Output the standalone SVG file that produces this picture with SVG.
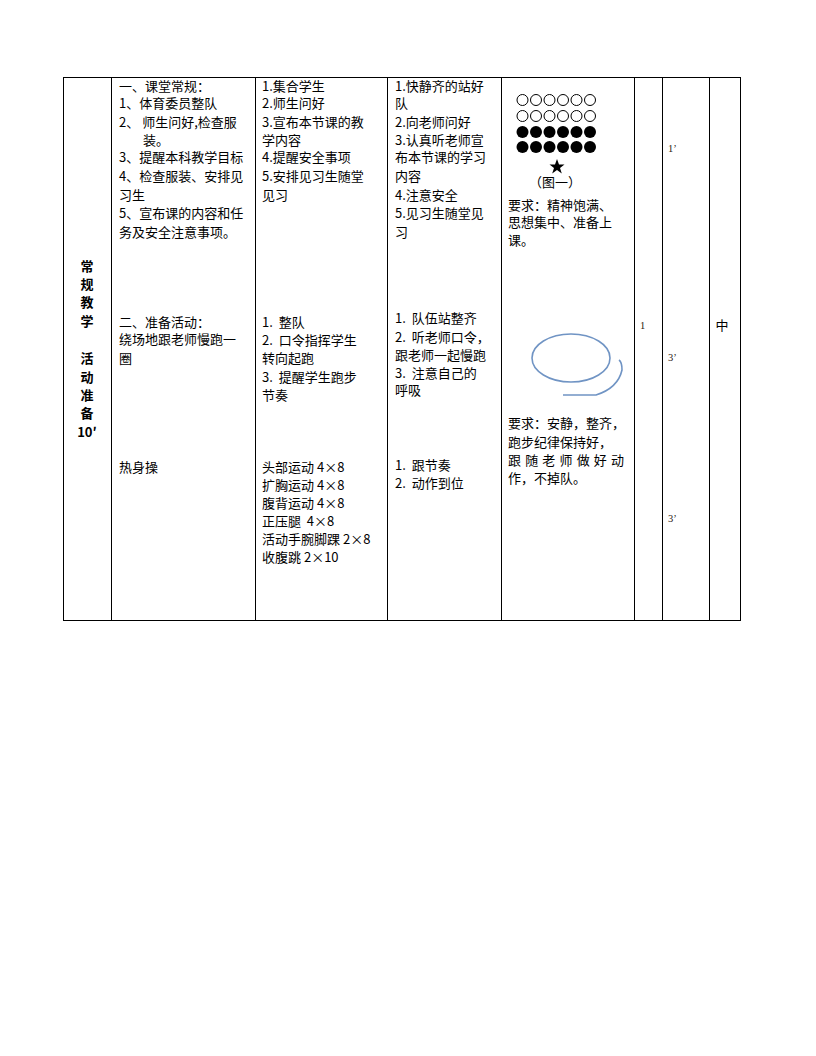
<svg xmlns="http://www.w3.org/2000/svg" width="816" height="1056" viewBox="0 0 816 1056">
<style>
.t{font-family:"Noto Sans CJK SC","Noto Sans",sans-serif;font-size:13px;fill:#000;white-space:pre}
.b{font-family:"Noto Sans CJK SC","Noto Sans",sans-serif;font-size:13px;font-weight:bold;fill:#000}
.s{font-family:"Liberation Serif",serif;font-size:10.5px;fill:#2a2010}
.grid line{stroke:#000;stroke-width:1}
.o{fill:none;stroke:#000;stroke-width:1}
.f{fill:#000}
</style>
<rect width="816" height="1056" fill="#fff"/>
<g id="table" class="grid">
<line x1="63" y1="77.5" x2="740" y2="77.5"/>
<line x1="63" y1="620.5" x2="740" y2="620.5"/>
<line x1="63.5" y1="77" x2="63.5" y2="621"/>
<line x1="111.5" y1="77" x2="111.5" y2="621"/>
<line x1="255.5" y1="77" x2="255.5" y2="621"/>
<line x1="387.5" y1="77" x2="387.5" y2="621"/>
<line x1="501.5" y1="77" x2="501.5" y2="621"/>
<line x1="634.5" y1="77" x2="634.5" y2="621"/>
<line x1="662.5" y1="77" x2="662.5" y2="621"/>
<line x1="709.5" y1="77" x2="709.5" y2="621"/>
<line x1="740.5" y1="77" x2="740.5" y2="621"/>
</g>
<g id="col1">
<text class="b" x="87" y="271" text-anchor="middle">常</text>
<text class="b" x="87" y="289" text-anchor="middle">规</text>
<text class="b" x="87" y="307" text-anchor="middle">教</text>
<text class="b" x="87" y="326" text-anchor="middle">学</text>
<text class="b" x="87" y="363" text-anchor="middle">活</text>
<text class="b" x="87" y="382" text-anchor="middle">动</text>
<text class="b" x="87" y="400" text-anchor="middle">准</text>
<text class="b" x="87" y="418" text-anchor="middle">备</text>
<text class="b" x="87" y="437" text-anchor="middle">10′</text>
</g>
<g id="col2">
<text class="t" x="119" y="91">一、课堂常规：</text>
<text class="t" x="119" y="108">1、体育委员整队</text>
<text class="t" x="119" y="127">2、 师生问好,检查服</text>
<text class="t" x="143" y="145">装。</text>
<text class="t" x="119" y="162">3、提醒本科教学目标</text>
<text class="t" x="119" y="181">4、检查服装、安排见</text>
<text class="t" x="119" y="200">习生</text>
<text class="t" x="119" y="218">5、宣布课的内容和任</text>
<text class="t" x="119" y="237">务及安全注意事项。</text>
<text class="t" x="119" y="327">二、准备活动：</text>
<text class="t" x="119" y="344">绕场地跟老师慢跑一</text>
<text class="t" x="119" y="363">圈</text>
<text class="t" x="119" y="472">热身操</text>
</g>
<g id="col3">
<text class="t" x="262" y="91">1.集合学生</text>
<text class="t" x="262" y="108">2.师生问好</text>
<text class="t" x="262" y="127">3.宣布本节课的教</text>
<text class="t" x="262" y="145">学内容</text>
<text class="t" x="262" y="162">4.提醒安全事项</text>
<text class="t" x="262" y="181">5.安排见习生随堂</text>
<text class="t" x="262" y="200">见习</text>
<text class="t" x="262" y="327">1.  整队</text>
<text class="t" x="262" y="345">2.  口令指挥学生</text>
<text class="t" x="262" y="363">转向起跑</text>
<text class="t" x="262" y="382">3.  提醒学生跑步</text>
<text class="t" x="262" y="400">节奏</text>
<text class="t" x="262" y="472">头部运动 4×8</text>
<text class="t" x="262" y="490">扩胸运动 4×8</text>
<text class="t" x="262" y="508">腹背运动 4×8</text>
<text class="t" x="262" y="526">正压腿  4×8</text>
<text class="t" x="262" y="544">活动手腕脚踝 2×8</text>
<text class="t" x="262" y="562">收腹跳 2×10</text>
</g>
<g id="col4">
<text class="t" x="395" y="91">1.快静齐的站好</text>
<text class="t" x="395" y="108">队</text>
<text class="t" x="395" y="127">2.向老师问好</text>
<text class="t" x="395" y="145">3.认真听老师宣</text>
<text class="t" x="395" y="162">布本节课的学习</text>
<text class="t" x="395" y="181">内容</text>
<text class="t" x="395" y="200">4.注意安全</text>
<text class="t" x="395" y="218">5.见习生随堂见</text>
<text class="t" x="395" y="237">习</text>
<text class="t" x="395" y="323">1.  队伍站整齐</text>
<text class="t" x="395" y="342">2.  听老师口令，</text>
<text class="t" x="395" y="360">跟老师一起慢跑</text>
<text class="t" x="395" y="378">3.  注意自己的</text>
<text class="t" x="395" y="395">呼吸</text>
<text class="t" x="395" y="470">1.  跟节奏</text>
<text class="t" x="395" y="488">2.  动作到位</text>
</g>
<g id="col5">
<g id="formation">
<circle class="o" cx="522.5" cy="100" r="5.5"/><circle class="o" cx="536" cy="100" r="5.5"/><circle class="o" cx="549.5" cy="100" r="5.5"/><circle class="o" cx="563" cy="100" r="5.5"/><circle class="o" cx="576.5" cy="100" r="5.5"/><circle class="o" cx="590" cy="100" r="5.5"/>
<circle class="o" cx="522.5" cy="116" r="5.5"/><circle class="o" cx="536" cy="116" r="5.5"/><circle class="o" cx="549.5" cy="116" r="5.5"/><circle class="o" cx="563" cy="116" r="5.5"/><circle class="o" cx="576.5" cy="116" r="5.5"/><circle class="o" cx="590" cy="116" r="5.5"/>
<circle class="f" cx="522.5" cy="132" r="6"/><circle class="f" cx="536" cy="132" r="6"/><circle class="f" cx="549.5" cy="132" r="6"/><circle class="f" cx="563" cy="132" r="6"/><circle class="f" cx="576.5" cy="132" r="6"/><circle class="f" cx="590" cy="132" r="6"/>
<circle class="f" cx="522.5" cy="147" r="6"/><circle class="f" cx="536" cy="147" r="6"/><circle class="f" cx="549.5" cy="147" r="6"/><circle class="f" cx="563" cy="147" r="6"/><circle class="f" cx="576.5" cy="147" r="6"/><circle class="f" cx="590" cy="147" r="6"/>
<polygon class="f" points="557,159 559,164.5 564.5,164.5 560,168 561.8,173.5 557,170 552.2,173.5 554,168 549.5,164.5 555,164.5"/>
</g>
<text class="t" x="555" y="187" text-anchor="middle">（图一）</text>
<text class="t" x="508" y="210">要求：精神饱满、</text>
<text class="t" x="508" y="227">思想集中、准备上</text>
<text class="t" x="508" y="245">课。</text>
<g id="track" fill="none" stroke="#7094c4" stroke-width="1.6">
<ellipse cx="571" cy="358" rx="39" ry="24"/>
<path d="M563 395 L596 395 Q618 388 622 370 Q622 362 619 360"/>
</g>
<text class="t" x="508" y="428">要求：安静，整齐，</text>
<text class="t" x="508" y="447">跑步纪律保持好，</text>
<text class="t" x="508" y="465" textLength="116" lengthAdjust="spacing">跟随老师做好动</text>
<text class="t" x="508" y="483">作，不掉队。</text>
</g>
<g id="col6">
<text class="s" x="640" y="329">1</text>
</g>
<g id="col7">
<text class="s" x="668" y="152">1’</text>
<text class="s" x="668" y="361">3’</text>
<text class="s" x="668" y="522">3’</text>
</g>
<g id="col8">
<text class="t" x="722" y="330" text-anchor="middle">中</text>
</g>
</svg>
